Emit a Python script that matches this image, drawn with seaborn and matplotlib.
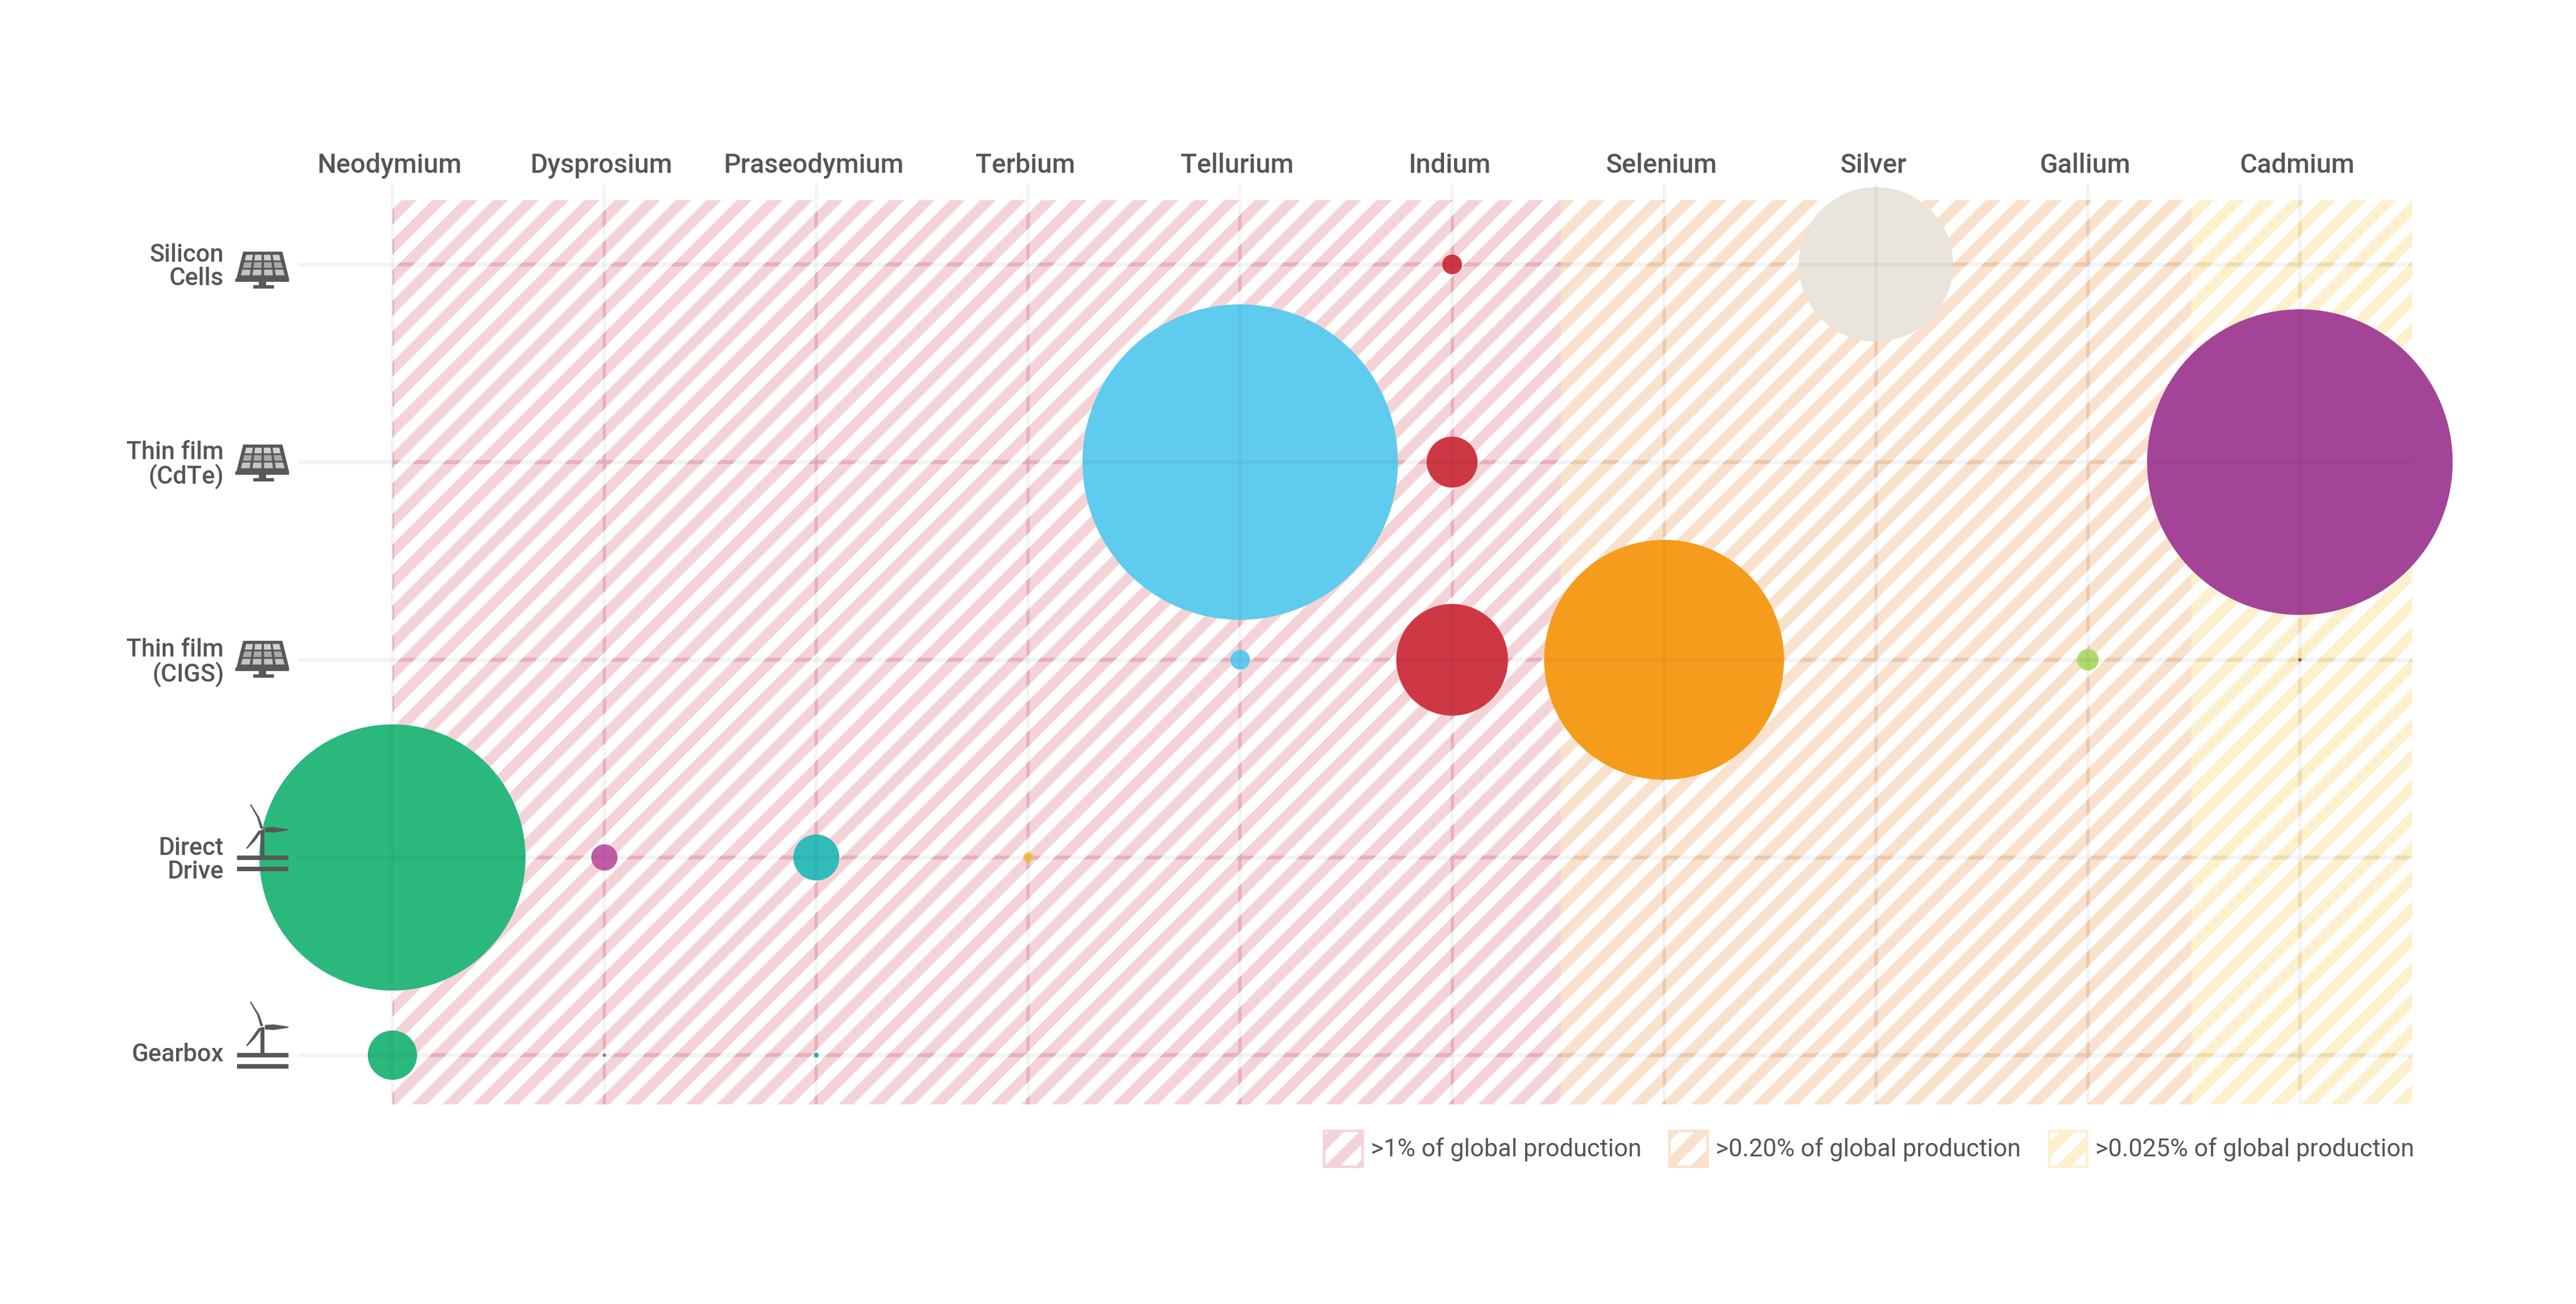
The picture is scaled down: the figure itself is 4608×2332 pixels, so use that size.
import matplotlib
matplotlib.use("Agg")
import matplotlib.pyplot as plt
from matplotlib.patches import Patch, Polygon
from matplotlib.transforms import ScaledTranslation
import seaborn as sns
import pandas as pd
import numpy as np

materials = ['Neodymium', 'Dysprosium', 'Praseodymium', 'Terbium', 'Tellurium',
             'Indium', 'Selenium', 'Silver', 'Gallium', 'Cadmium']
technologies = ['Silicon\nCells', 'Thin film\n(CdTe)', 'Thin film\n(CIGS)', 'Direct\nDrive', 'Gearbox']

# bubble area, relative units
silicon_cells = [0, 0, 0, 0, 0, 144, 0, 8836, 0, 0]
thin_film_cdte = [0, 0, 0, 0, 36864, 961, 0, 0, 0, 34596]
thin_film_cigs = [0, 0, 0, 0, 144, 4624, 21316, 0, 169, 4]
direct_drive = [26244, 256, 784, 36, 0, 0, 0, 0, 0, 0]
gearbox = [900, 4, 9, 0, 0, 0, 0, 0, 0, 0]

material_colors = ['#2BB87D', '#C25CA8', '#31BBBB', '#F8C44A', '#5FCBEE',
                   '#CE3744', '#F69C1D', '#E9E5DC', '#AEDC6C', '#A44498']

band_labels = ['>1% of global production', '>0.20% of global production', '>0.025% of global production']
band_edges = [0, 5.513, 8.489, 9.53]
band_colors = ['#F4D3D6', '#F9E1CB', '#FDF0CD']
band_grid_colors = ['#F0B8C1', '#F4D2B6', '#F9E6B6']

W, H, DPI = 4608, 2332, 327
text_color = '#555558'

sns.set_style("white")
plt.rcParams['font.family'] = ['Roboto', 'DejaVu Sans']
plt.rcParams['hatch.linewidth'] = 4.2

rows = [silicon_cells, thin_film_cdte, thin_film_cigs, direct_drive, gearbox]
records = []
for r, row in enumerate(rows):
	for m, v in enumerate(row):
		if v > 0:
			records.append({'x': m, 'y': r, 'material': materials[m], 'value': v})
df = pd.DataFrame(records)

fig = plt.figure(figsize=(W / DPI, H / DPI), dpi=DPI, facecolor='white')
ax = fig.add_axes([702 / W, 1 - 1975 / H, (4315 - 702) / W, (1975 - 358) / H])
ax.set_xlim(0, 9.53)
ax.set_ylim(4.249, -0.325)

# hatched bands
for i in range(3):
	ax.axvspan(band_edges[i], band_edges[i + 1], facecolor='none', edgecolor=band_colors[i],
			   hatch='//', linewidth=0, zorder=1)


def band_index(x):
	for i in range(3):
		if x < band_edges[i + 1]:
			return i
	return 2


# darker stripes where the grid crosses the hatch
vw, hw = 3 / 379.1, 3.5 / 353.5
for m in range(len(materials)):
	ax.axvspan(m - vw, m + vw, facecolor='none', edgecolor=band_grid_colors[band_index(m)],
			   hatch='//', linewidth=0, zorder=2)
for r in range(len(technologies)):
	for i in range(3):
		ax.fill_between(band_edges[i:i + 2], r - hw, r + hw, facecolor='none',
						edgecolor=band_grid_colors[i], hatch='//', linewidth=0, zorder=2)

sns.scatterplot(data=df, x='x', y='y', hue='material', hue_order=materials, palette=material_colors,
				size='value', size_norm=(0, 36864), sizes=(0, 36864 * (W / 1568 * 72 / DPI) ** 2),
				linewidth=0, alpha=1, legend=False, clip_on=False, zorder=4, ax=ax)

# grid runs past the hatch and shows through the bubbles
grid_top, grid_left = -0.41, -0.448
ax.vlines(range(len(materials)), grid_top, 4.249, color='#26323e', alpha=0.05, linewidth=1.3,
		  clip_on=False, zorder=5)
ax.hlines(range(len(technologies)), grid_left, 9.53, color='#26323e', alpha=0.05, linewidth=1.6,
		  clip_on=False, zorder=5)

ax.set_xlabel('')
ax.set_ylabel('')
ax.xaxis.tick_top()
ax.set_xticks(range(len(materials)))
ax.set_xticklabels(materials, fontsize=10.5, color=text_color, fontweight='medium')
ax.set_yticks(range(len(technologies)))
ax.set_yticklabels(technologies, fontsize=9.7, color=text_color, fontweight='medium',
				   multialignment='right', linespacing=1.0)
ax.tick_params(axis='x', length=0, pad=8.6)
ax.tick_params(axis='y', length=0, pad=66.4)
sns.despine(ax=ax, left=True, bottom=True)
ax.patch.set_alpha(0)

# labels sit a little left of their gridlines
left_shift = ScaledTranslation(-5 / DPI, 0, fig.dpi_scale_trans)
for label in ax.get_xticklabels():
	label.set_transform(label.get_transform() + left_shift)
up_shift = ScaledTranslation(0, 5 / DPI, fig.dpi_scale_trans)
gear_label = ax.get_yticklabels()[-1]
gear_label.set_transform(gear_label.get_transform() + up_shift)

handles = [Patch(facecolor='none', edgecolor=band_colors[i], hatch='//', linewidth=1.0, label=band_labels[i])
		   for i in range(3)]
leg = ax.legend(handles=handles, ncols=3, loc='upper right', bbox_to_anchor=(1.001, -0.029), frameon=False,
				fontsize=9.7, handlelength=1.55, handleheight=1.85, handletextpad=0.34, columnspacing=1.13,
				borderpad=0, borderaxespad=0, labelcolor=text_color)

# icons, in figure pixels
icon_ax = fig.add_axes([0, 0, 1, 1], zorder=10)
icon_ax.set_xlim(0, W)
icon_ax.set_ylim(H, 0)
icon_ax.axis('off')
icon_color = '#58585A'
panel_y = [473, 818, 1169]
turbine_y = [1534, 1887]


def draw_panel(y):
	dark = dict(facecolor=icon_color, edgecolor='none')
	icon_ax.add_patch(Polygon([(435, y - 23), (505, y - 23), (517, y + 25), (423, y + 25)], **dark))
	for r in range(3):
		for c in range(4):
			t0, t1 = (r + 0.12) / 3, (r + 0.88) / 3
			y0, y1 = y - 19 + 40 * t0, y - 19 + 40 * t1
			xl0, xr0 = 437 - 11 * t0 + 2, 503 + 11 * t0 - 2
			xl1, xr1 = 437 - 11 * t1 + 2, 503 + 11 * t1 - 2
			a0, a1 = (c + 0.12) / 4, (c + 0.88) / 4
			tint = ['#D0D0D2', '#A8A8AA', '#C4C4C6'][r]
			icon_ax.add_patch(Polygon([(xl0 + (xr0 - xl0) * a0, y0), (xl0 + (xr0 - xl0) * a1, y0),
									   (xl1 + (xr1 - xl1) * a1, y1), (xl1 + (xr1 - xl1) * a0, y1)],
									  facecolor=tint, edgecolor='none'))
	icon_ax.add_patch(Polygon([(421, y + 25), (517, y + 25), (517, y + 31), (421, y + 31)], **dark))
	icon_ax.add_patch(Polygon([(463, y + 31), (476, y + 31), (476, y + 37), (463, y + 37)], **dark))
	icon_ax.add_patch(Polygon([(453, y + 37), (490, y + 37), (490, y + 43), (453, y + 43)], **dark))


def draw_turbine(y):
	dark = dict(facecolor=icon_color, edgecolor='none')
	icon_ax.add_patch(Polygon([(424, y - 4), (516, y - 4), (516, y + 4), (424, y + 4)], **dark))
	icon_ax.add_patch(Polygon([(424, y + 16), (516, y + 16), (516, y + 24), (424, y + 24)], **dark))
	icon_ax.add_patch(Polygon([(466, y - 50), (473, y - 50), (473, y - 4), (466, y - 4)], **dark))
	icon_ax.add_patch(Polygon([(447, y - 95), (449, y - 96), (464, y - 72), (471, y - 52), (466, y - 52), (460, y - 72)], **dark))
	icon_ax.add_patch(Polygon([(474, y - 54), (490, y - 55), (516, y - 51), (516, y - 49), (490, y - 45), (474, y - 46)], **dark))
	icon_ax.add_patch(Polygon([(463, y - 49), (468, y - 47), (456, y - 30), (442, y - 16), (440, y - 17), (451, y - 32)], **dark))


for y in panel_y:
	draw_panel(y)
for y in turbine_y:
	draw_turbine(y)

fig.savefig('out.png', dpi=DPI)
